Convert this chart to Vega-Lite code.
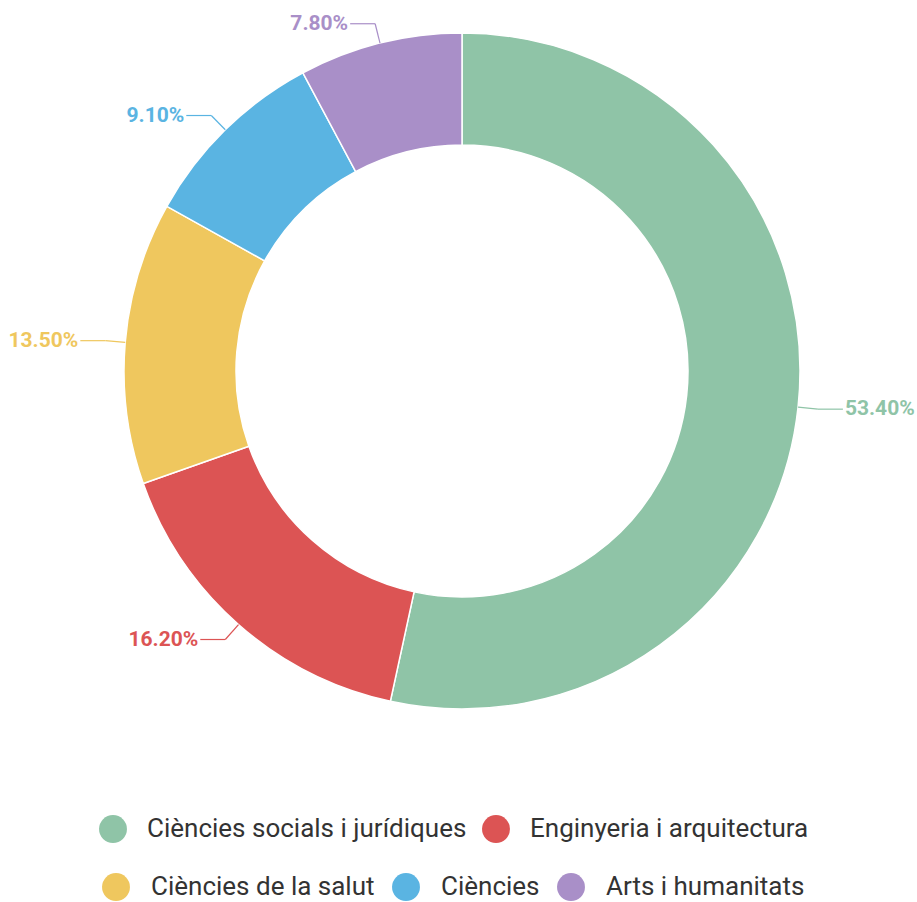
{
  "$schema": "https://vega.github.io/schema/vega-lite/v6.json",
  "width": 910,
  "height": 742,
  "autosize": "none",
  "padding": {"left": 7, "top": 0, "right": 0, "bottom": 160},
  "background": "white",
  "config": {"view": {"stroke": null}},
  "data": {
    "values": [
      {"cat": "Ciències socials i jurídiques", "value": 53.4, "order": 1, "group": 1},
      {"cat": "Enginyeria i arquitectura", "value": 16.2, "order": 2, "group": 1},
      {"cat": "Ciències de la salut", "value": 13.5, "order": 3, "group": 2},
      {"cat": "Ciències", "value": 9.1, "order": 4, "group": 2},
      {"cat": "Arts i humanitats", "value": 7.8, "order": 5, "group": 2}
    ]
  },
  "transform": [
    {"stack": "value", "groupby": [], "sort": [{"field": "order", "order": "ascending"}], "as": ["v0", "v1"]},
    {"calculate": "(datum.v0 + datum.v1) / 200 * 2 * PI", "as": "ang"},
    {"calculate": "sin(datum.ang)", "as": "sx"},
    {"calculate": "cos(datum.ang)", "as": "cy"},
    {"calculate": "datum.sx > 0 ? 1 : -1", "as": "side"},
    {"calculate": "datum.sx * 1.0", "as": "x0"},
    {"calculate": "datum.cy * 1.0", "as": "y0"},
    {"calculate": "datum.sx * 1.059", "as": "x1"},
    {"calculate": "datum.cy * 1.059", "as": "y1"},
    {"calculate": "datum.x1 + datum.side * 0.074", "as": "x2"},
    {"calculate": "datum.x2 + datum.side * 0.006", "as": "xt"},
    {"calculate": "format(datum.value / 100, '.2%')", "as": "label"}
  ],
  "layer": [
    {
      "transform": [{"filter": "datum.group == 1"}],
      "mark": {"type": "arc", "innerRadius": 226, "outerRadius": 338, "stroke": "white", "strokeWidth": 1.5},
      "encoding": {
        "theta": {"field": "v0", "type": "quantitative", "stack": null, "scale": {"domain": [0, 100]}},
        "theta2": {"field": "v1"},
        "color": {
          "field": "cat", "type": "nominal",
          "scale": {"domain": ["Ciències socials i jurídiques", "Enginyeria i arquitectura"], "range": ["#8fc4a7", "#dc5454"]},
          "legend": {"title": null, "orient": "none", "legendX": 92, "legendY": 815, "direction": "horizontal",
            "symbolType": "circle", "symbolSize": 780, "symbolStrokeWidth": 0, "labelFont": "Roboto", "labelFontSize": 26,
            "labelColor": "#333333", "labelOffset": 20, "columnPadding": 15, "labelLimit": 600}
        }
      }
    },
    {
      "transform": [{"filter": "datum.group == 2"}],
      "mark": {"type": "arc", "innerRadius": 226, "outerRadius": 338, "stroke": "white", "strokeWidth": 1.5},
      "encoding": {
        "theta": {"field": "v0", "type": "quantitative", "stack": null, "scale": {"domain": [0, 100]}},
        "theta2": {"field": "v1"},
        "color": {
          "field": "cat", "type": "nominal",
          "scale": {"domain": ["Ciències de la salut", "Ciències", "Arts i humanitats"], "range": ["#efc75e", "#5ab4e2", "#a98fc8"]},
          "legend": {"title": null, "orient": "none", "legendX": 95, "legendY": 873, "direction": "horizontal",
            "symbolType": "circle", "symbolSize": 780, "symbolStrokeWidth": 0, "labelFont": "Roboto", "labelFontSize": 26,
            "labelColor": "#333333", "labelOffset": 21, "columnPadding": 17, "labelLimit": 600}
        }
      }
    },
    {
      "mark": {"type": "rule", "strokeWidth": 1.2},
      "encoding": {
        "x": {"field": "x0", "type": "quantitative", "scale": {"domain": [-1.3462, 1.3462], "nice": false, "zero": false}, "axis": null},
        "y": {"field": "y0", "type": "quantitative", "scale": {"domain": [-1.0976, 1.0976], "nice": false, "zero": false}, "axis": null},
        "x2": {"field": "x1"},
        "y2": {"field": "y1"},
        "color": {"field": "cat", "type": "nominal", "legend": null,
          "scale": {"domain": ["Ciències socials i jurídiques", "Enginyeria i arquitectura", "Ciències de la salut", "Ciències", "Arts i humanitats"],
            "range": ["#8fc4a7", "#dc5454", "#efc75e", "#5ab4e2", "#a98fc8"]}}
      }
    },
    {
      "mark": {"type": "rule", "strokeWidth": 1.2},
      "encoding": {
        "x": {"field": "x1", "type": "quantitative", "scale": {"domain": [-1.3462, 1.3462], "nice": false, "zero": false}, "axis": null},
        "y": {"field": "y1", "type": "quantitative", "scale": {"domain": [-1.0976, 1.0976], "nice": false, "zero": false}, "axis": null},
        "x2": {"field": "x2"},
        "color": {"field": "cat", "type": "nominal", "legend": null,
          "scale": {"domain": ["Ciències socials i jurídiques", "Enginyeria i arquitectura", "Ciències de la salut", "Ciències", "Arts i humanitats"],
            "range": ["#8fc4a7", "#dc5454", "#efc75e", "#5ab4e2", "#a98fc8"]}}
      }
    },
    {
      "transform": [{"filter": "datum.side > 0"}],
      "mark": {"type": "text", "align": "left", "baseline": "middle", "font": "Roboto", "fontWeight": "bold", "fontSize": 21},
      "encoding": {
        "x": {"field": "xt", "type": "quantitative", "scale": {"domain": [-1.3462, 1.3462], "nice": false, "zero": false}, "axis": null},
        "y": {"field": "y1", "type": "quantitative", "scale": {"domain": [-1.0976, 1.0976], "nice": false, "zero": false}, "axis": null},
        "text": {"field": "label"},
        "color": {"field": "cat", "type": "nominal", "legend": null,
          "scale": {"domain": ["Ciències socials i jurídiques", "Enginyeria i arquitectura", "Ciències de la salut", "Ciències", "Arts i humanitats"],
            "range": ["#8fc4a7", "#dc5454", "#efc75e", "#5ab4e2", "#a98fc8"]}}
      }
    },
    {
      "transform": [{"filter": "datum.side < 0"}],
      "mark": {"type": "text", "align": "right", "baseline": "middle", "font": "Roboto", "fontWeight": "bold", "fontSize": 21},
      "encoding": {
        "x": {"field": "xt", "type": "quantitative", "scale": {"domain": [-1.3462, 1.3462], "nice": false, "zero": false}, "axis": null},
        "y": {"field": "y1", "type": "quantitative", "scale": {"domain": [-1.0976, 1.0976], "nice": false, "zero": false}, "axis": null},
        "text": {"field": "label"},
        "color": {"field": "cat", "type": "nominal", "legend": null,
          "scale": {"domain": ["Ciències socials i jurídiques", "Enginyeria i arquitectura", "Ciències de la salut", "Ciències", "Arts i humanitats"],
            "range": ["#8fc4a7", "#dc5454", "#efc75e", "#5ab4e2", "#a98fc8"]}}
      }
    }
  ],
  "resolve": {"scale": {"color": "independent"}, "legend": {"color": "independent"}}
}
